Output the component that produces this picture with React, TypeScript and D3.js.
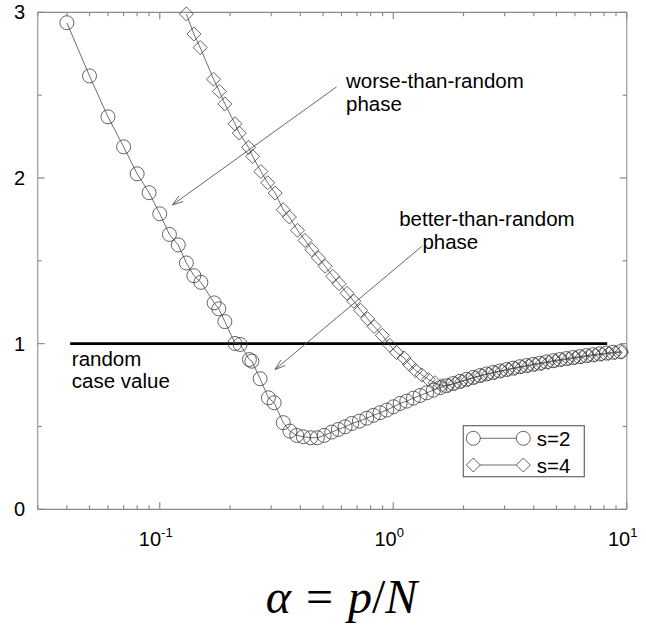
import React from "react";
import * as d3 from "d3";

// ---- data ----
const s2Alpha = [0.040, 0.050, 0.060, 0.070, 0.080, 0.090, 0.100, 0.110, 0.120, 0.130, 0.140, 0.150, 0.171, 0.179, 0.190, 0.210, 0.221, 0.242, 0.248, 0.269, 0.292, 0.309, 0.338, 0.361, 0.386, 0.412, 0.443, 0.473, 0.506, 0.545, 0.582, 0.622, 0.664, 0.716, 0.770, 0.822, 0.878, 0.939, 1.002, 1.070, 1.143, 1.220,
  1.303, 1.391, 1.485, 1.586, 1.694, 1.809, 1.931, 2.063, 2.203, 2.352, 2.512, 2.682, 2.864, 3.059, 3.266, 3.488, 3.724, 3.977, 4.247, 4.535, 4.843, 5.171, 5.522, 5.897, 6.297, 6.724, 7.180, 7.667, 8.187, 8.743, 9.400];
const s2Value = [2.937, 2.616, 2.369, 2.188, 2.025, 1.911, 1.784, 1.659, 1.596, 1.487, 1.410, 1.370, 1.246, 1.210, 1.133, 1.001, 0.995, 0.904, 0.894, 0.788, 0.673, 0.643, 0.523, 0.472, 0.446, 0.438, 0.432, 0.432, 0.446, 0.466, 0.482, 0.498, 0.518, 0.532, 0.550, 0.567, 0.583, 0.599, 0.619, 0.639, 0.653, 0.671,
  0.687, 0.703, 0.719, 0.734, 0.746, 0.759, 0.772, 0.784, 0.796, 0.807, 0.817, 0.826, 0.835, 0.844, 0.852, 0.861, 0.868, 0.875, 0.882, 0.890, 0.897, 0.904, 0.910, 0.916, 0.922, 0.928, 0.933, 0.938, 0.943, 0.948, 0.952];

const s4Alpha = [0.130, 0.140, 0.149, 0.170, 0.180, 0.190, 0.210, 0.219, 0.240, 0.250, 0.271, 0.290, 0.312, 0.338, 0.359, 0.389, 0.419, 0.448, 0.478, 0.511, 0.551, 0.586, 0.634, 0.678, 0.725, 0.777, 0.828, 0.898, 0.967, 1.033, 1.113, 1.175, 1.247, 1.325, 1.414, 1.511, 1.614, 1.725, 1.841, 1.967, 2.099, 2.242, 2.396, 2.557, 2.732, 2.918, 3.114, 3.327, 3.554, 3.794, 4.054, 4.330, 4.623, 4.938, 5.276, 5.631, 6.015, 6.426, 6.860, 7.328, 7.828, 8.355, 8.925, 9.517];
const s4Value = [2.990, 2.869, 2.787, 2.596, 2.523, 2.447, 2.327, 2.271, 2.185, 2.130, 2.039, 1.971, 1.909, 1.808, 1.764, 1.684, 1.623, 1.567, 1.517, 1.467, 1.406, 1.362, 1.304, 1.256, 1.201, 1.150, 1.103, 1.050, 0.990, 0.946, 0.914, 0.874, 0.838, 0.811, 0.784, 0.764, 0.747, 0.750, 0.759, 0.772, 0.784, 0.796, 0.808, 0.817, 0.826, 0.835, 0.844, 0.851, 0.859, 0.866, 0.874, 0.880, 0.887, 0.894, 0.901, 0.907, 0.913, 0.919, 0.925, 0.930, 0.935, 0.940, 0.945, 0.948];

const randomAlpha = [0.0413, 8.25];
const randomValue = 1;

const yTickValues = [0, 1, 2, 3];
const yMinorValues = [0.5, 1.5, 2.5];
const xMajorValues = [0.1, 1, 10];
const xMajorExponents = ["-1", "0", "1"];

const legendLabels = ["s=2", "s=4"];

// annotations in data coordinates: [alpha, value]
const arrowWorseFrom: [number, number] = [0.572, 2.55];
const arrowWorseTo: [number, number] = [0.1134, 1.838];
const arrowBetterFrom: [number, number] = [1.325, 1.587];
const arrowBetterTo: [number, number] = [0.3118, 0.844];
const worseText = ["worse-than-random", "phase"];
const worseTextAt: [number, number] = [0.628, 2.542];
const betterText = ["better-than-random", "phase"];
const betterTextAt: [number, number][] = [[1.06, 1.708], [1.333, 1.571]];
const randomText = ["random", "case value"];
const randomTextAt: [number, number] = [0.042, 0.868];

const W = 646, H = 630;
const PL = 37.7, PR = 626.7, PT = 12.3, PB = 509.3;

const SANS = "'Liberation Sans', Arial, Helvetica, sans-serif";

export default function App() {
  const x = d3.scaleLog().domain([0.03, 10]).range([PL, PR]);
  const y = d3.scaleLinear().domain([0, 3]).range([PB, PT]);

  const xMinor = x.ticks().filter((t) => !xMajorValues.some((m) => Math.abs(m - t) < 1e-9));

  const line = d3.line<[number, number]>().x((d) => x(d[0])).y((d) => y(d[1]));
  const s2 = s2Alpha.map((a, i) => [a, s2Value[i]] as [number, number]);
  const s4 = s4Alpha.map((a, i) => [a, s4Value[i]] as [number, number]);

  const axisColor = "#8a8a8a";
  const markColor = "#3c3c3c";
  const R = 7;
  const diamond = (r: number) => `M0,${-r}L${r},0L0,${r}L${-r},0Z`;

  const arrow = (from: [number, number], to: [number, number], key: string) => {
    const x1 = x(from[0]), y1 = y(from[1]), x2 = x(to[0]), y2 = y(to[1]);
    const ang = Math.atan2(y2 - y1, x2 - x1);
    const L = 11, spread = 0.33;
    const a1 = [x2 - L * Math.cos(ang - spread), y2 - L * Math.sin(ang - spread)];
    const a2 = [x2 - L * Math.cos(ang + spread), y2 - L * Math.sin(ang + spread)];
    return (
      <g key={key} stroke="#555" strokeWidth={0.9} fill="none">
        <line x1={x1} y1={y1} x2={x2} y2={y2} />
        <polyline points={`${a1[0]},${a1[1]} ${x2},${y2} ${a2[0]},${a2[1]}`} />
      </g>
    );
  };

  const legX1 = 473.3, legX2 = 523.3, legRows = [438.3, 465];

  return (
    <svg width={W} height={H} style={{ position: "absolute", left: 0, top: 0, background: "#fff" }}>
      {/* frame */}
      <g stroke={axisColor} strokeWidth={1.2} fill="none">
        <line x1={PL} y1={PT} x2={PR} y2={PT} />
        <line x1={PL} y1={PB} x2={PR} y2={PB} />
        <line x1={PL} y1={PT} x2={PL} y2={PB} stroke="#aaa" strokeWidth={1.5} />
        <line x1={PR} y1={PT} x2={PR} y2={PB} stroke="#aaa" strokeWidth={1.5} />
        {yTickValues.map((v) => (
          <g key={"yt" + v}>
            <line x1={PL} x2={PL + 7} y1={y(v)} y2={y(v)} />
            <line x1={PR} x2={PR - 7} y1={y(v)} y2={y(v)} />
          </g>
        ))}
        {yMinorValues.map((v) => (
          <g key={"ym" + v}>
            <line x1={PL} x2={PL + 4} y1={y(v)} y2={y(v)} />
            <line x1={PR} x2={PR - 4} y1={y(v)} y2={y(v)} />
          </g>
        ))}
        {xMajorValues.map((v) => (
          <g key={"xt" + v}>
            <line x1={x(v)} x2={x(v)} y1={PB} y2={PB - 7} />
            <line x1={x(v)} x2={x(v)} y1={PT} y2={PT + 7} />
          </g>
        ))}
        {xMinor.map((v) => (
          <g key={"xm" + v}>
            <line x1={x(v)} x2={x(v)} y1={PB} y2={PB - 4} />
            <line x1={x(v)} x2={x(v)} y1={PT} y2={PT + 4} />
          </g>
        ))}
      </g>

      {/* tick labels */}
      <g fontFamily={SANS} fontSize={20} fill="#000">
        {yTickValues.map((v) => (
          <text key={"yl" + v} x={25} y={y(v)} textAnchor="end" dominantBaseline="central">{v}</text>
        ))}
        {xMajorValues.map((v, i) => (
          <text key={"xl" + v} x={x(v) - 4} y={PB + 37} textAnchor="middle">
            10<tspan fontSize={13} dy={-9}>{xMajorExponents[i]}</tspan>
          </text>
        ))}
      </g>

      {/* random case line */}
      <line x1={x(randomAlpha[0])} x2={x(randomAlpha[1])} y1={y(randomValue)} y2={y(randomValue)} stroke="#000" strokeWidth={2.6} />

      {/* series s=2 */}
      <path d={line(s2) || ""} fill="none" stroke="#4a4a4a" strokeWidth={0.8} />
      {s2.map((d, i) => (
        <circle key={"c" + i} cx={x(d[0])} cy={y(d[1])} r={R} fill="none" stroke={markColor} strokeWidth={0.8} />
      ))}
      {/* series s=4 */}
      <path d={line(s4) || ""} fill="none" stroke="#4a4a4a" strokeWidth={0.8} />
      {s4.map((d, i) => (
        <path key={"d" + i} transform={`translate(${x(d[0])},${y(d[1])})`} d={diamond(R)} fill="none" stroke={markColor} strokeWidth={0.8} />
      ))}

      {/* annotations */}
      {arrow(arrowWorseFrom, arrowWorseTo, "a1")}
      {arrow(arrowBetterFrom, arrowBetterTo, "a2")}
      <g fontFamily={SANS} fontSize={20.5} fill="#000">
        {worseText.map((t, i) => (
          <text key={"w" + i} x={x(worseTextAt[0])} y={y(worseTextAt[1]) + i * 23}>{t}</text>
        ))}
        {betterText.map((t, i) => (
          <text key={"b" + i} x={x(betterTextAt[i][0])} y={y(betterTextAt[i][1])}>{t}</text>
        ))}
        {randomText.map((t, i) => (
          <text key={"r" + i} x={x(randomTextAt[0])} y={y(randomTextAt[1]) + i * 22.5}>{t}</text>
        ))}
      </g>

      {/* legend */}
      <rect x={463.3} y={425.7} width={121} height={51} fill="#fff" stroke="#666" strokeWidth={1.2} />
      {legendLabels.map((lab, i) => (
        <g key={"lg" + i}>
          <line x1={legX1} x2={legX2} y1={legRows[i]} y2={legRows[i]} stroke="#4a4a4a" strokeWidth={0.8} />
          {i === 0 ? (
            <>
              <circle cx={legX1} cy={legRows[i]} r={R} fill="#fff" stroke={markColor} strokeWidth={0.8} />
              <circle cx={legX2} cy={legRows[i]} r={R} fill="#fff" stroke={markColor} strokeWidth={0.8} />
            </>
          ) : (
            <>
              <path transform={`translate(${legX1},${legRows[i]})`} d={diamond(R)} fill="#fff" stroke={markColor} strokeWidth={0.8} />
              <path transform={`translate(${legX2},${legRows[i]})`} d={diamond(R)} fill="#fff" stroke={markColor} strokeWidth={0.8} />
            </>
          )}
          <text x={536.7} y={legRows[i] + 7.5} fontFamily={SANS} fontSize={20.5}>{lab}</text>
        </g>
      ))}

      {/* x axis title */}
      <text x={341.5} y={613} textAnchor="middle" fontFamily="'Liberation Serif', 'Times New Roman', serif" fontSize={48}>
        <tspan fontStyle="italic">α</tspan>
        <tspan dx={15}>=</tspan>
        <tspan dx={15} fontStyle="italic">p</tspan>
        <tspan>/</tspan>
        <tspan fontStyle="italic">N</tspan>
      </text>
    </svg>
  );
}
